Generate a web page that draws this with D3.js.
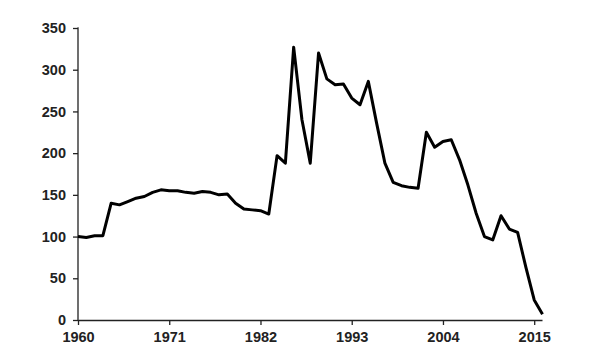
<!DOCTYPE html>
<html><head><meta charset="utf-8">
<script src="https://cdn.jsdelivr.net/npm/d3@7"></script>
<style>body{margin:0;background:#fff}svg{display:block}</style>
</head><body>
<script>
const years = d3.range(1960, 2017);
const values = [100,99,101,101,140,138,142,146,148,153,156,155,155,153,152,154,153,150,151,140,133,132,131,127,197,188,327,240,188,320,289,282,283,266,258,286,236,188,165,161,159,158,225,207,214,216,192,162,128,100,96,125,109,105,63,24,7];
const xTicks = [1960,1971,1982,1993,2004,2015];
const yTicks = [0,50,100,150,200,250,300,350];

const W=600,H=360;
const svg=d3.select("body").append("svg").attr("width",W).attr("height",H);
const x=d3.scaleLinear().domain([1960,2016]).range([78,542.5]);
const y=d3.scaleLinear().domain([0,350]).range([320,28]);
const font="'Liberation Sans', Arial, sans-serif";

const ya=svg.append("g").attr("transform","translate(78,0)")
  .call(d3.axisLeft(y).tickValues(yTicks).tickSize(5).tickPadding(7));
const xa=svg.append("g").attr("transform","translate(0,320)")
  .call(d3.axisBottom(x).tickValues(xTicks).tickFormat(d3.format("d")).tickSize(5).tickPadding(7));
[ya,xa].forEach(a=>{
  a.select(".domain").attr("stroke","#222").attr("stroke-width",1.3);
  a.selectAll(".tick line").attr("stroke","#222").attr("stroke-width",1.3);
  a.selectAll("text").attr("font-family",font).attr("font-weight","bold").attr("font-size","14.5px").attr("fill","#222");
});
xa.select(".domain").attr("d","M78.5,0.5H542.5");
ya.select(".domain").attr("d","M-0.5,28H0V320.5");

svg.append("path").datum(values)
  .attr("fill","none").attr("stroke","#000").attr("stroke-width",3).attr("stroke-linejoin","round")
  .attr("d",d3.line().x((d,i)=>x(years[i])).y(d=>y(d)));
</script>
</body></html>
